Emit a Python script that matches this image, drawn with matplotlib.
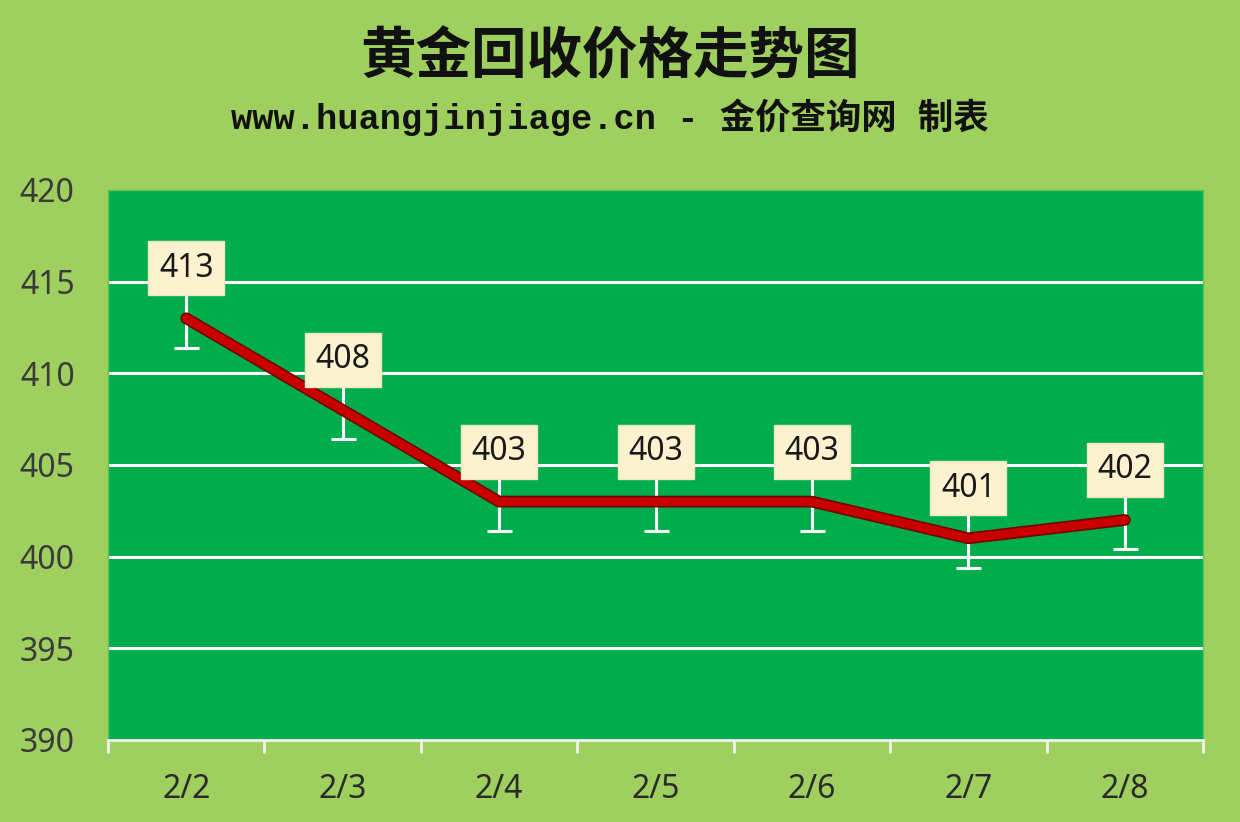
import matplotlib.pyplot as plt

plt.rcParams['font.family'] = ['Noto Sans', 'Noto Sans CJK SC', 'DejaVu Sans']

# 数据
dates = ['2/2', '2/3', '2/4', '2/5', '2/6', '2/7', '2/8']
prices = [413, 408, 403, 403, 403, 401, 402]
err = 1.6

bg_color = '#9fcf5e'
plot_color = '#00ad4c'
line_color = '#c80000'

fig = plt.figure(figsize=(12.4, 8.22), dpi=100)
fig.patch.set_facecolor(bg_color)
ax = fig.add_axes([0.0871, 0.0998, 0.8831, 0.6691])
ax.set_facecolor(plot_color)

x = list(range(len(dates)))

# 网格线
for v in [395, 400, 405, 410, 415]:
    ax.axhline(v, color='white', linewidth=2.2, zorder=1)

# 误差线
ax.errorbar(x, prices, yerr=err, fmt='none', ecolor='white', elinewidth=2.2,
            capsize=9, capthick=2.2, zorder=2)

# 折线（深色描边）
ax.plot(x, prices, color='#7a0000', linewidth=8.5, solid_capstyle='round', zorder=3)
ax.plot(x, prices, color=line_color, linewidth=6, solid_capstyle='round', zorder=4)

# 数据标签
for xi, yi in zip(x, prices):
    ax.annotate(str(yi), (xi, yi), xytext=(0, 50), textcoords='offset pixels',
                ha='center', va='center', fontsize=23, color='#1a1a1a',
                bbox=dict(boxstyle='square,pad=0.33', facecolor='#fdf2cf',
                          edgecolor='#f3e6bd', linewidth=1), zorder=5)

ax.set_xlim(-0.5, 6.5)
ax.set_ylim(390, 420)
ax.set_yticks([390, 395, 400, 405, 410, 415, 420])
ax.set_xticks(x)
ax.set_xticklabels(dates)
ax.set_xticks([i - 0.5 for i in range(len(dates) + 1)], minor=True)

for s in ['top', 'right', 'left']:
    ax.spines[s].set_color('#5fc25c')
    ax.spines[s].set_linewidth(1)
ax.spines['bottom'].set_color('#f2f2f2')
ax.spines['bottom'].set_linewidth(2)

ax.tick_params(axis='y', length=0, pad=24, labelsize=23, labelcolor='#3a3a3a')
ax.tick_params(axis='x', which='major', length=0, pad=24, labelsize=23, labelcolor='#2a2a2a')
ax.tick_params(axis='x', which='minor', length=9, width=2, color='#f2f2f2', direction='out')

fig.text(0.492, 0.930, '黄金回收价格走势图', ha='center', va='center', fontsize=40,
         fontweight='bold', family=['Noto Sans CJK SC'], color='#111111')
fig.text(0.492, 0.858, 'www.huangjinjiage.cn - 金价查询网 制表', ha='center', va='center',
         fontsize=25.5, fontweight='bold', family=['Liberation Mono', 'Noto Sans CJK SC'],
         color='#111111')

fig.savefig('out.png', dpi=100, facecolor=bg_color)
